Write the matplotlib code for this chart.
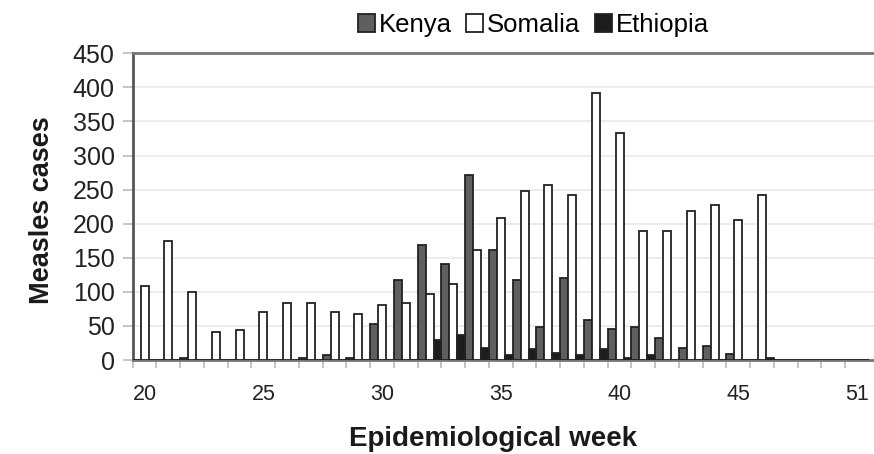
import matplotlib
matplotlib.use("Agg")
import matplotlib.pyplot as plt
import numpy as np
from matplotlib.patches import Patch

weeks = list(range(20, 50)) + [51]
kenya = [0, 0, 3, 0, 0, 0, 0, 3, 7, 3, 53, 118, 168, 141, 271, 162, 118, 48, 121, 59,
         45, 48, 33, 18, 21, 9, 0, 0, 0, 0, 0]
somalia = [108, 174, 100, 41, 44, 71, 83, 83, 71, 68, 80, 83, 97, 112, 162, 209, 248, 257, 242, 392,
           333, 189, 189, 218, 227, 206, 242, 0, 0, 0, 0]
ethiopia = [0, 0, 0, 0, 0, 0, 0, 0, 0, 0, 0, 0, 30, 36, 18, 7, 16, 10, 7, 16,
            3, 7, 0, 0, 0, 0, 3, 0, 0, 0, 0]
series_names = ["Kenya", "Somalia", "Ethiopia"]
yticks = list(range(0, 451, 50))

plt.rcParams['font.family'] = ['Liberation Sans', 'DejaVu Sans']

fig = plt.figure(figsize=(8.74, 4.54), dpi=100)
ax = fig.add_axes([132.7 / 874, 94 / 454, 1 - 132.7 / 874, (360 - 53.3) / 454])

x = np.arange(len(weeks))
w = 1 / 3
cols = ["#5f5f5f", "#ffffff", "#1c1c1c"]
for i, (vals, c) in enumerate(zip([kenya, somalia, ethiopia], cols)):
    ax.bar(x + (i - 1) * w, vals, width=w, color=c, edgecolor="#222222", linewidth=1.3, zorder=3)

ax.set_ylim(0, 450)
ax.set_xlim(-0.5, (874 - 132.7) / 23.75 - 0.5)
ax.set_yticks(yticks)
ax.yaxis.grid(True, color="#ececec", linewidth=1.4, zorder=0)
ax.set_axisbelow(True)

ax.set_xticks(np.arange(len(weeks)) - 0.5, minor=False)
ax.set_xticklabels([])
lab_idx = list(range(0, len(weeks), 5))
ax.set_xticks(lab_idx, minor=True)
ax.set_xticklabels([str(weeks[i]) for i in lab_idx], minor=True, fontsize=15.5, color="#222222")
ax.tick_params(axis='x', which='major', length=6, color="#bbbbbb", width=1.2, direction='out')
ax.tick_params(axis='x', which='minor', length=0, pad=17)
ax.tick_params(axis='y', length=7, color="#bbbbbb", width=1.2, pad=6, labelsize=18, labelcolor="#222222")

for s in ["top", "left", "bottom"]:
    ax.spines[s].set_color("#777777")
    ax.spines[s].set_linewidth(2)
ax.spines["left"].set_color("#555555")
ax.spines["right"].set_visible(False)

ax.set_ylabel("Measles cases", fontsize=19.5, fontweight="bold", color="#1a1a1a")
ax.yaxis.set_label_coords((42.5 - 132.7) / (874 - 132.7), 0.49)
ax.set_xlabel("Epidemiological week", fontsize=20, fontweight="bold", color="#1a1a1a")
ax.xaxis.set_label_coords((493 - 132.7) / (874 - 132.7), -(439 - 360) / (360 - 53.3))
ax.xaxis.label.set_va("center")
ax.yaxis.label.set_va("center")

handles = [Patch(facecolor=c, edgecolor="#222222", linewidth=1.3) for c in cols]
leg = fig.legend(handles, series_names, loc="center", bbox_to_anchor=(533.5 / 874, 1 - 25 / 454), ncol=3,
                 frameon=False, fontsize=18.5, handlelength=0.66, handleheight=0.66, handletextpad=0.15,
                 columnspacing=0.55, borderaxespad=0.0, borderpad=0.0)

fig.savefig("out.png", dpi=100)
